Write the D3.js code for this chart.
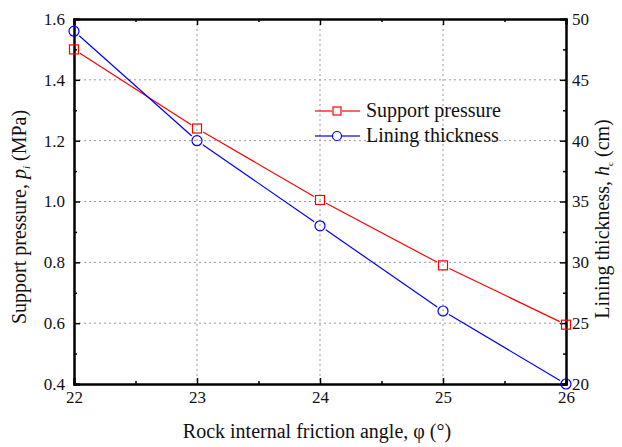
<!DOCTYPE html>
<html><head><meta charset="utf-8">
<script src="https://cdn.jsdelivr.net/npm/d3@7"></script>
</head><body style="margin:0;background:#fff"><svg id="c" width="622" height="447" font-family="Liberation Serif"></svg>
<script>
const angles = [22, 23, 24, 25, 26];
const supportPressure = [1.50, 1.24, 1.005, 0.79, 0.595];
const liningThickness = [49, 40, 33, 26, 20];
const xTicks = [22, 23, 24, 25, 26];
const yLeftTicks = [0.4, 0.6, 0.8, 1.0, 1.2, 1.4, 1.6];
const yRightTicks = [20, 25, 30, 35, 40, 45, 50];

const FONT = "Liberation Serif";
const svg = d3.select("#c");
const L = 74, R = 566, T = 19, B = 384;
const x = d3.scaleLinear().domain([22, 26]).range([L, R]);
const yL = d3.scaleLinear().domain([0.4, 1.6]).range([B, T]);
const yR = d3.scaleLinear().domain([20, 50]).range([B, T]);

// grid
const g = svg.append("g");
xTicks.slice(1, -1).forEach(v => g.append("line").attr("x1", x(v)).attr("x2", x(v)).attr("y1", T).attr("y2", B)
  .attr("stroke", "#999").attr("stroke-width", 1).attr("stroke-dasharray", "2,3"));
yLeftTicks.slice(1, -1).forEach(v => g.append("line").attr("x1", L).attr("x2", R).attr("y1", yL(v)).attr("y2", yL(v))
  .attr("stroke", "#999").attr("stroke-width", 1).attr("stroke-dasharray", "2,3"));

// axes
const fs = "17px";
const ax = svg.append("g").attr("transform", `translate(0,${B})`)
  .call(d3.axisBottom(x).tickValues(xTicks).tickFormat(d3.format("d")).tickSize(-6).tickPadding(10));
svg.append("g").attr("transform", `translate(0,${T})`)
  .call(d3.axisTop(x).tickValues(xTicks).tickFormat("").tickSize(-6));
const minorX = d3.range(22.5, 26, 1);
svg.append("g").attr("transform", `translate(0,${B})`).call(d3.axisBottom(x).tickValues(minorX).tickFormat("").tickSize(-3));
svg.append("g").attr("transform", `translate(0,${T})`).call(d3.axisTop(x).tickValues(minorX).tickFormat("").tickSize(-3));

const ayL = svg.append("g").attr("transform", `translate(${L},0)`)
  .call(d3.axisLeft(yL).tickValues(yLeftTicks).tickFormat(d3.format(".1f")).tickSize(-6).tickPadding(9));
svg.append("g").attr("transform", `translate(${L},0)`).call(d3.axisLeft(yL).tickValues(d3.range(0.5, 1.6, 0.2)).tickFormat("").tickSize(-3));
const ayR = svg.append("g").attr("transform", `translate(${R},0)`)
  .call(d3.axisRight(yR).tickValues(yRightTicks).tickFormat(d3.format("d")).tickSize(-6).tickPadding(8));
svg.append("g").attr("transform", `translate(${R},0)`).call(d3.axisRight(yR).tickValues(d3.range(22.5, 50, 5)).tickFormat("").tickSize(-3));

svg.selectAll("g").attr("font-family", FONT);
svg.selectAll(".domain").attr("stroke", "#000").attr("stroke-width", 2);
svg.selectAll(".tick line").attr("stroke", "#000").attr("stroke-width", 1.5);
svg.selectAll(".tick text").attr("font-size", fs).attr("font-family", FONT).style("font-family", FONT).attr("fill", "#111");
ax.selectAll(".tick text").attr("dy", "0.5em");
ayR.selectAll(".tick text").attr("dx", "-2");

// series
function drawSeries(xs, ys, ysc, color, shape) {
  const pts = xs.map((v, i) => [x(v), ysc(ys[i])]);
  const gap = 7;
  for (let i = 0; i < pts.length - 1; i++) {
    const [x1, y1] = pts[i], [x2, y2] = pts[i + 1];
    const d = Math.hypot(x2 - x1, y2 - y1), ux = (x2 - x1) / d, uy = (y2 - y1) / d;
    svg.append("line").attr("x1", x1 + ux * gap).attr("y1", y1 + uy * gap)
      .attr("x2", x2 - ux * gap).attr("y2", y2 - uy * gap).attr("stroke", color).attr("stroke-width", 1.2);
  }
  pts.forEach(([px, py]) => {
    if (shape === "square") svg.append("rect").attr("x", px - 4.5).attr("y", py - 4.5).attr("width", 9).attr("height", 9)
      .attr("fill", "none").attr("stroke", color).attr("stroke-width", 1.2);
    else svg.append("circle").attr("cx", px).attr("cy", py).attr("r", 5).attr("fill", "none").attr("stroke", color).attr("stroke-width", 1.2);
  });
}
drawSeries(angles, supportPressure, yL, "#ff0000", "square");
drawSeries(angles, liningThickness, yR, "#0000ff", "circle");

// legend
const lg = svg.append("g");
[["Support pressure", "#ff0000", "square", 111], ["Lining thickness", "#0000ff", "circle", 136]].forEach(([t, c, s, yy]) => {
  lg.append("line").attr("x1", 315).attr("x2", 332).attr("y1", yy).attr("y2", yy).attr("stroke", c).attr("stroke-width", 1.2);
  lg.append("line").attr("x1", 342).attr("x2", 360).attr("y1", yy).attr("y2", yy).attr("stroke", c).attr("stroke-width", 1.2);
  if (s === "square") lg.append("rect").attr("x", 333).attr("y", yy - 4).attr("width", 8).attr("height", 8).attr("fill", "none").attr("stroke", c).attr("stroke-width", 1.2);
  else lg.append("circle").attr("cx", 337).attr("cy", yy).attr("r", 4.5).attr("fill", "none").attr("stroke", c).attr("stroke-width", 1.2);
  lg.append("text").attr("x", 366).attr("y", yy + 6).style("font-family", FONT).attr("font-size", "20px").attr("fill", "#111").text(t);
});

// axis titles
const xt = svg.append("text").attr("x", 317).attr("y", 438).attr("text-anchor", "middle").style("font-family", FONT).attr("font-size", "20px").attr("fill", "#111");
xt.text("Rock internal friction angle, φ (°)");

const ylt = svg.append("text").attr("transform", `translate(26,217) rotate(-90)`).attr("text-anchor", "middle").style("font-family", FONT).attr("font-size", "20px").attr("fill", "#111");
ylt.append("tspan").text("Support pressure, ");
ylt.append("tspan").attr("font-style", "italic").text("p");
ylt.append("tspan").attr("font-style", "italic").attr("font-size", "11px").attr("dy", "4").text("i");
ylt.append("tspan").attr("dy", "-4").text(" (MPa)");

const yrt = svg.append("text").attr("transform", `translate(609,219) rotate(-90)`).attr("text-anchor", "middle").style("font-family", FONT).attr("font-size", "20px").attr("fill", "#111");
yrt.append("tspan").text("Lining thickness, ");
yrt.append("tspan").attr("font-style", "italic").text("h");
yrt.append("tspan").attr("font-size", "9px").attr("dy", "4").text("c");
yrt.append("tspan").attr("dy", "-4").text(" (cm)");
</script></body></html>
